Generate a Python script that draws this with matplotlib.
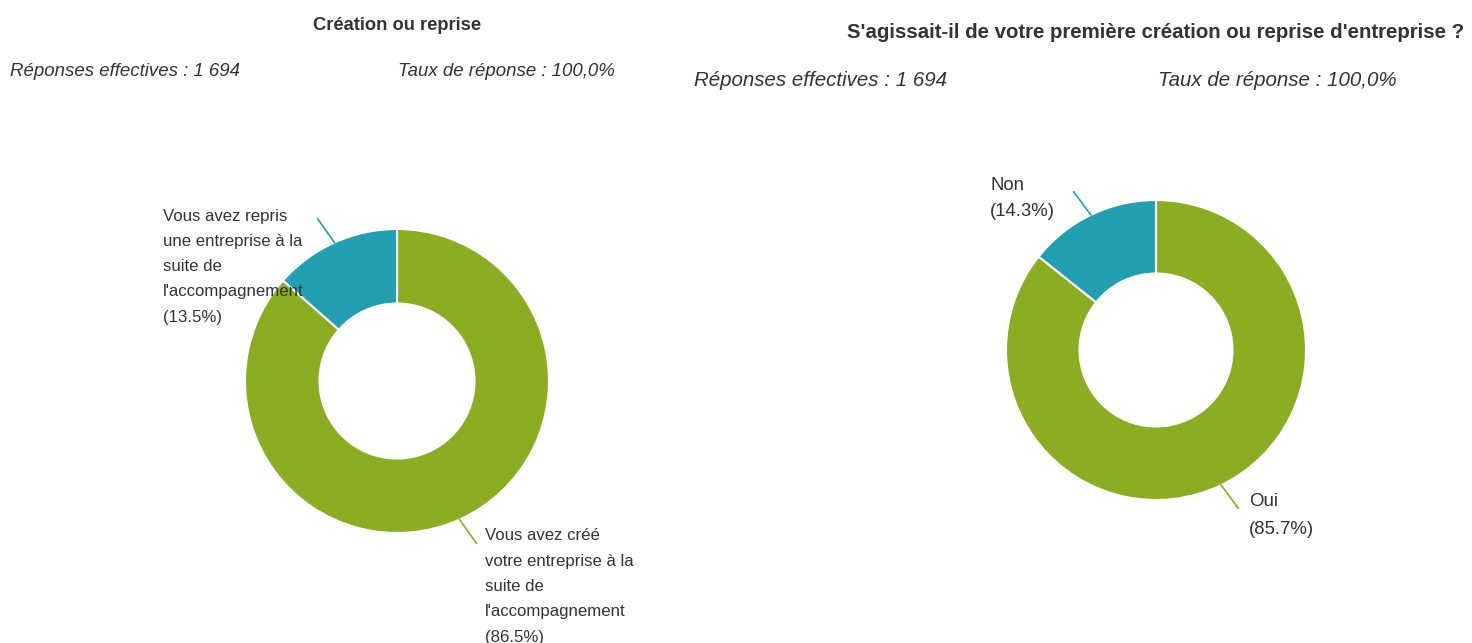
import numpy as np
import matplotlib.pyplot as plt

plt.rcParams['font.family'] = ['Liberation Sans', 'DejaVu Sans']

# donnees
gauche_labels = ["Vous avez créé\nvotre entreprise à la\nsuite de\nl'accompagnement\n(86.5%)",
                 "Vous avez repris\nune entreprise à la\nsuite de\nl'accompagnement\n(13.5%)"]
gauche_valeurs = [86.5, 13.5]
droite_labels = ["Oui\n(85.7%)", "Non\n(14.3%)"]
droite_valeurs = [85.7, 14.3]
couleurs = ['#8aad22', '#229fb0']

titre_gauche = "Création ou reprise"
titre_droite = "S'agissait-il de votre première création ou reprise d'entreprise ?"
reponses = "Réponses effectives : 1 694"
taux = "Taux de réponse : 100,0%"

W, H = 1472, 643
texte = '#333333'

fig = plt.figure(figsize=(W / 100, H / 100), dpi=100)
fig.patch.set_facecolor('white')

# axe en pixels pour les textes (au-dessus des donuts)
overlay = fig.add_axes([0, 0, 1, 1])
overlay.set_xlim(0, W)
overlay.set_ylim(H, 0)
overlay.axis('off')
overlay.set_zorder(10)
overlay.patch.set_alpha(0)


def donut(cx, cy, r, valeurs):
    axis = fig.add_axes([(cx - r) / W, (H - cy - r) / H, 2 * r / W, 2 * r / H])
    axis.pie(valeurs, colors=couleurs, startangle=90, counterclock=False,
             radius=1, wedgeprops=dict(width=0.49, edgecolor='white', linewidth=1.5))
    axis.set_xlim(-1, 1)
    axis.set_ylim(-1, 1)
    axis.axis('off')

    # lignes de rappel vers les etiquettes
    debut = 90.0
    for valeur, couleur in zip(valeurs, couleurs):
        milieu = np.deg2rad(debut - valeur * 3.6 / 2)
        debut -= valeur * 3.6
        dx, dy = np.cos(milieu), np.sin(milieu)
        pousse = 0.04 * np.sign(dx)
        axis.plot([dx * 1.0, dx * 1.17 + pousse], [dy * 1.0, dy * 1.17],
                  color=couleur, lw=1.2, clip_on=False)
    return axis


def etiquette(x, y0, pas, txt, taille):
    for i, ligne in enumerate(txt.split('\n')):
        overlay.text(x, y0 + i * pas, ligne, ha='left', va='center',
                     fontsize=taille, color=texte, clip_on=False)


# graphique de gauche
donut(397, 381, 152, gauche_valeurs)
overlay.text(397, 26, titre_gauche, ha='center', va='center', fontsize=13.2,
             fontweight='bold', color=texte)
overlay.text(10, 71, reponses, ha='left', va='center', fontsize=13.4,
             style='italic', color=texte)
overlay.text(398, 71, taux, ha='left', va='center', fontsize=13.4,
             style='italic', color=texte)
etiquette(485, 536, 25.3, gauche_labels[0], 12.1)
etiquette(163, 216, 25.3, gauche_labels[1], 12.1)

# graphique de droite
donut(1156, 350, 150, droite_valeurs)
overlay.text(1156, 32, titre_droite, ha='center', va='center', fontsize=14.65,
             fontweight='bold', color=texte)
overlay.text(694, 80, reponses, ha='left', va='center', fontsize=14.8,
             style='italic', color=texte)
overlay.text(1158, 80, taux, ha='left', va='center', fontsize=14.8,
             style='italic', color=texte)
etiquette(1249, 501, 28, droite_labels[0], 13.4)
etiquette(990, 185, 27, droite_labels[1], 13.4)

fig.savefig('out.png', dpi=100, facecolor='white')
